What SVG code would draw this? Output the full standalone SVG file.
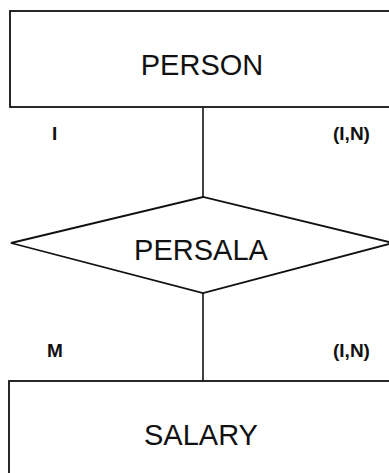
<svg xmlns="http://www.w3.org/2000/svg" width="389" height="473" viewBox="0 0 389 473">
<style>
.shape{fill:none;stroke:#111;stroke-width:1.8}
.conn{stroke:#111;stroke-width:1.6;fill:none}
.big{font-family:"Liberation Sans",Arial,sans-serif;font-size:29px;fill:#111;text-anchor:middle}
.small{font-family:"Liberation Sans",Arial,sans-serif;font-size:19px;font-weight:bold;fill:#111}
</style>
<rect width="389" height="473" fill="#fff"/>
<g id="connectors">
<line class="conn" x1="203" y1="108" x2="203" y2="197"/>
<line class="conn" x1="203" y1="293" x2="203" y2="381"/>
</g>
<g id="person">
<rect class="shape" x="10" y="11" width="390" height="96"/>
<text class="big" x="202" y="75">PERSON</text>
</g>
<g id="persala">
<polygon class="shape" points="11,243 203,197 393,243 203,293"/>
<text class="big" x="201" y="260">PERSALA</text>
</g>
<g id="salary">
<rect class="shape" x="9" y="381" width="392" height="100"/>
<text class="big" x="201" y="445">SALARY</text>
</g>
<g id="labels">
<text class="small" x="52" y="140">I</text>
<text class="small" x="333" y="140">(I,N)</text>
<text class="small" x="47" y="357">M</text>
<text class="small" x="333" y="357">(I,N)</text>
</g>
</svg>
